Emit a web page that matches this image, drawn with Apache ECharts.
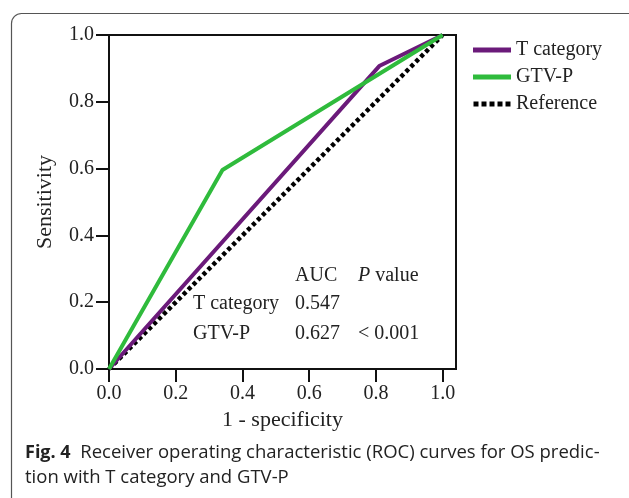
<!DOCTYPE html>
<html>
<head>
<meta charset="utf-8">
<script src="https://cdn.jsdelivr.net/npm/echarts@6/dist/echarts.min.js"></script>
<style>
  html, body { margin: 0; padding: 0; background: #fff; }
  #main { width: 629px; height: 498px; }
</style>
</head>
<body>
<div id="main"></div>
<script>
// ROC points, x = 1 - specificity, y = sensitivity
var tCategory = [[0, 0], [0.81, 0.907], [1, 1]];
var gtvP = [[0, 0], [0.34, 0.596], [1, 1]];
var reference = [[0, 0], [1, 1]];
var tickValues = [0, 0.2, 0.4, 0.6, 0.8, 1.0];

// AUC table
var statHeader = ['AUC', 'P value'];
var statNames = ['T category', 'GTV-P'];
var aucValues = ['0.547', '0.627'];
var pValues = ['', '< 0.001'];

var serif = 'Liberation Serif';
var chart = echarts.init(document.getElementById('main'));

var font = '20px "Liberation Serif"';
var statText = [];
statText.push({ type: 'text', left: 295, top: 266, style: { text: statHeader[0], font: font, fill: '#222' } });
statText.push({ type: 'text', left: 358, top: 266, style: { text: '{i|P} value', font: font, fill: '#222',
  rich: { i: { fontStyle: 'italic', fontFamily: serif, fontSize: 20 } } } });
statNames.forEach(function (n, i) {
  var top = 294 + i * 30;
  statText.push({ type: 'text', left: 193, top: top, style: { text: n, font: font, fill: '#222' } });
  statText.push({ type: 'text', left: 295, top: top, style: { text: aucValues[i], font: font, fill: '#222' } });
  if (pValues[i]) statText.push({ type: 'text', left: 358, top: top, style: { text: pValues[i], font: font, fill: '#222' } });
});

// dotted legend swatch
var dotIcon = 'path://M0,0h5v5h-5z M8,0h5v5h-5z M16,0h5v5h-5z M24,0h5v5h-5z M32,0h5v5h-5z';

chart.setOption({
  animation: false,
  grid: { left: 109, top: 35, width: 347, height: 334, show: true, borderColor: '#111', borderWidth: 2, backgroundColor: 'transparent' },
  legend: {
    orient: 'vertical', left: 468, top: 35, itemWidth: 38, itemHeight: 5, itemGap: 7,
    textStyle: { fontFamily: serif, fontSize: 20, color: '#222' },
    data: [
      { name: 'T category', icon: 'rect' },
      { name: 'GTV-P', icon: 'rect' },
      { name: 'Reference', icon: dotIcon }
    ]
  },
  xAxis: {
    type: 'value', min: 0, max: 1.04,
    name: '1 - specificity', nameLocation: 'middle', nameGap: 37,
    nameTextStyle: { fontFamily: serif, fontSize: 22, color: '#222' },
    axisLine: { show: true, lineStyle: { color: '#111', width: 2 } },
    axisTick: { show: true, length: 13, customValues: tickValues, lineStyle: { color: '#111', width: 2 } },
    axisLabel: { customValues: tickValues, fontFamily: serif, fontSize: 20, color: '#222', margin: 15,
      formatter: function (v) { return v.toFixed(1); } },
    splitLine: { show: false }
  },
  yAxis: {
    type: 'value', min: 0, max: 1, interval: 0.2,
    name: 'Sensitivity', nameLocation: 'middle', nameGap: 53,
    nameTextStyle: { fontFamily: serif, fontSize: 22, color: '#222' },
    axisLine: { show: true, lineStyle: { color: '#111', width: 2 } },
    axisTick: { show: true, length: 13, lineStyle: { color: '#111', width: 2 } },
    axisLabel: { fontFamily: serif, fontSize: 20, color: '#222', margin: 15,
      formatter: function (v) { return v.toFixed(1); } },
    splitLine: { show: false }
  },
  series: [
    { name: 'T category', type: 'line', data: tCategory, symbol: 'none', lineStyle: { color: '#6b1a7a', width: 4 }, itemStyle: { color: '#6b1a7a' }, z: 3 },
    { name: 'GTV-P', type: 'line', data: gtvP, symbol: 'none', lineStyle: { color: '#2fbb3c', width: 4 }, itemStyle: { color: '#2fbb3c' }, z: 4 },
    { name: 'Reference', type: 'line', data: reference, symbol: 'none', lineStyle: { color: '#000', width: 4.5, type: [4, 3] }, itemStyle: { color: '#000' }, z: 2 }
  ],
  graphic: [
    { type: 'rect', left: 9, top: 11, shape: { width: 680, height: 495, r: 10 }, style: { fill: 'none', stroke: '#555', lineWidth: 1.2 }, silent: true },
    { type: 'text', left: 25, top: 440, style: {
      text: '{b|Fig. 4}  Receiver operating characteristic (ROC) curves for OS predic-\ntion with T category and GTV-P',
      font: '18.5px "Open Sans"', fill: '#222', lineHeight: 25,
      rich: { b: { fontWeight: 'bold', fontFamily: 'Open Sans', fontSize: 18, fill: '#222' } } } }
  ].concat(statText)
});
</script>
</body>
</html>
